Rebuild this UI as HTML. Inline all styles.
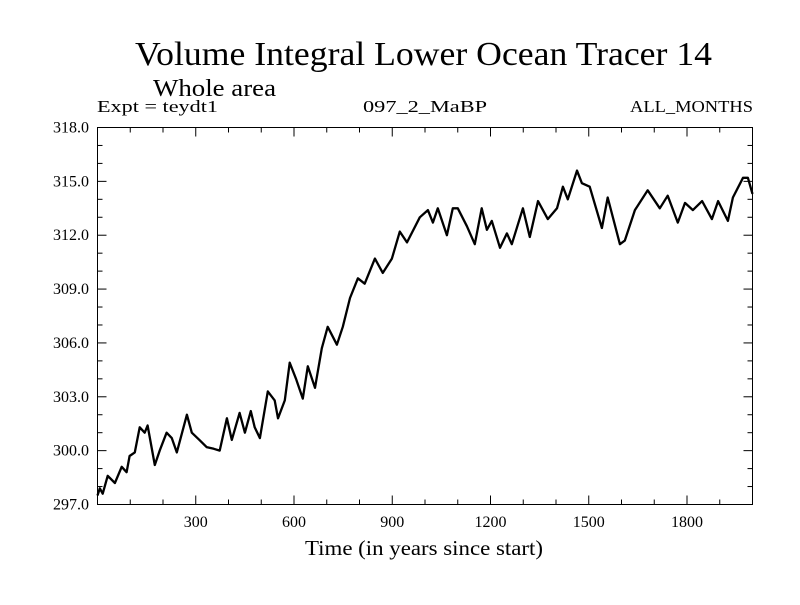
<!DOCTYPE html>
<html><head><meta charset="utf-8"><style>
body{margin:0;background:#fff;}
svg text{font-family:"Liberation Serif",serif;fill:#000;}
</style></head><body>
<svg width="800" height="600" xmlns="http://www.w3.org/2000/svg">
<text x="135" y="65" font-size="34" textLength="577" lengthAdjust="spacingAndGlyphs">Volume Integral Lower Ocean Tracer 14</text>
<text x="153" y="96" font-size="24" textLength="123" lengthAdjust="spacingAndGlyphs">Whole area</text>
<text x="97" y="112" font-size="17" textLength="121" lengthAdjust="spacingAndGlyphs">Expt = teydt1</text>
<text x="363" y="112" font-size="17" textLength="124" lengthAdjust="spacingAndGlyphs">097_2_MaBP</text>
<text x="630" y="112" font-size="17" textLength="123" lengthAdjust="spacingAndGlyphs">ALL_MONTHS</text>
<rect x="97.5" y="127.5" width="655" height="377" fill="none" stroke="#000" stroke-width="1"/>
<g id="axes"></g>
<path id="line" fill="none" stroke="#000" stroke-width="2.3" stroke-linejoin="round"/>
<text x="305" y="555" font-size="21" textLength="238" lengthAdjust="spacingAndGlyphs">Time (in years since start)</text>
</svg>
<script>
const years=[0,7,16,31,53,74,89,98,114,129,144,153,175,190,211,227,242,273,288,311,333,355,373,395,410,434,450,468,480,496,520,541,551,572,587,606,627,642,664,685,703,731,749,771,795,816,847,871,899,923,945,984,1009,1024,1039,1067,1085,1100,1128,1152,1173,1189,1204,1229,1250,1265,1299,1320,1345,1375,1403,1421,1436,1464,1479,1503,1540,1558,1595,1610,1641,1680,1717,1741,1772,1794,1818,1846,1876,1895,1925,1940,1971,1986,2000];
const values=[297.5,297.9,297.6,298.6,298.2,299.1,298.8,299.7,299.9,301.3,301.0,301.4,299.2,300.0,301.0,300.7,299.9,302.0,301.0,300.6,300.2,300.1,300.0,301.8,300.6,302.1,301.0,302.2,301.3,300.7,303.3,302.8,301.8,302.8,304.9,304.0,302.9,304.7,303.5,305.7,306.9,305.9,306.9,308.5,309.6,309.3,310.7,309.9,310.7,312.2,311.6,313.0,313.4,312.7,313.5,312.0,313.5,313.5,312.5,311.5,313.5,312.3,312.8,311.3,312.1,311.5,313.5,311.9,313.9,312.9,313.5,314.7,314.0,315.6,314.9,314.7,312.4,314.1,311.5,311.7,313.4,314.5,313.5,314.2,312.7,313.8,313.4,313.9,312.9,313.9,312.8,314.1,315.2,315.2,314.3];
const yTicks=[297,300,303,306,309,312,315,318];
const xTicks=[300,600,900,1200,1500,1800];
const X0=97.5,X1=752.5,Y0=504.5,Y1=127.5,XMIN=0,XMAX=2000,YMIN=297,YMAX=318;
function sx(v){return X0+(v-XMIN)/(XMAX-XMIN)*(X1-X0);}
function sy(v){return Y0-(v-YMIN)/(YMAX-YMIN)*(Y0-Y1);}
const NS='http://www.w3.org/2000/svg';
const g=document.getElementById('axes');
function ln(x1,y1,x2,y2,name){const l=document.createElementNS(NS,'line');
l.setAttribute('x1',x1);l.setAttribute('y1',y1);l.setAttribute('x2',x2);l.setAttribute('y2',y2);l.setAttribute('stroke','#000');


g.appendChild(l);}
function tx(x,y,s,anchor,name){const t=document.createElementNS(NS,'text');
t.setAttribute('x',x);t.setAttribute('y',y);t.setAttribute('font-size','16');t.setAttribute('text-anchor',anchor);t.textContent=s;


g.appendChild(t);}
for(let v=YMIN;v<=YMAX;v++){const y=sy(v);const major=yTicks.includes(v);const L=major?9:5;
ln(X0,y,X0+L,y,'y-tick');ln(X1,y,X1-L,y,'y-tick-right');}
yTicks.forEach(v=>tx(89,sy(v)+5,v.toFixed(1),'end','y-tick-label'));
for(let v=100;v<XMAX;v+=100){const x=sx(v);const major=xTicks.includes(v);const L=major?9:5;
ln(x,Y0,x,Y0-L,'x-tick');ln(x,Y1,x,Y1+L,'x-tick-top');}
xTicks.forEach(v=>tx(sx(v),527,String(v),'middle','x-tick-label'));
let d='';years.forEach((yr,i)=>{d+=(i?'L':'M')+sx(yr).toFixed(1)+','+sy(values[i]).toFixed(1);});
document.getElementById('line').setAttribute('d',d);
</script>
</body></html>
